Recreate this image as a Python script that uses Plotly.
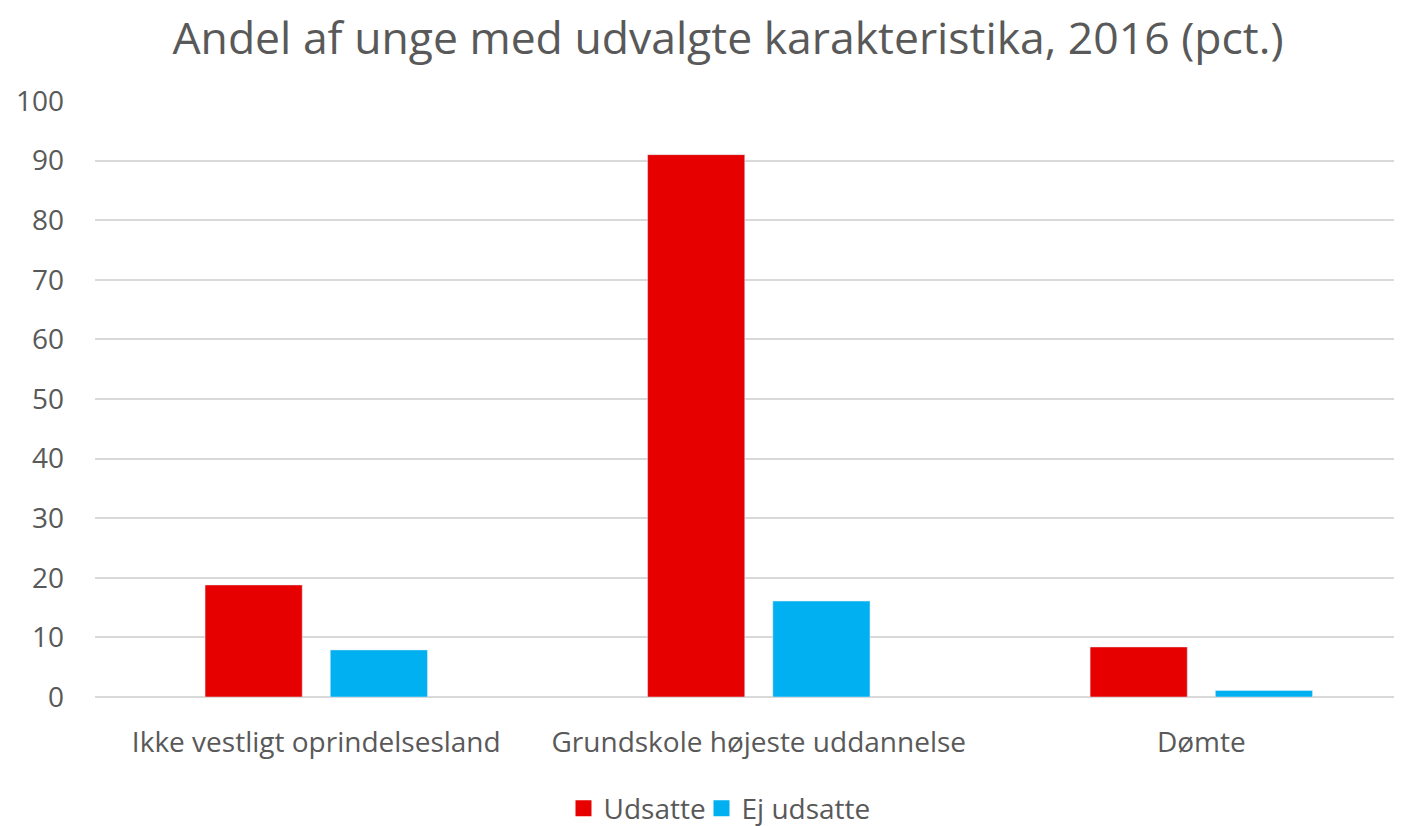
import plotly.graph_objects as go

categories = ["Ikke vestligt oprindelsesland", "Grundskole højeste uddannelse", "Dømte"]
series_names = ["Udsatte", "Ej udsatte"]
udsatte = [18.8, 91.0, 8.4]
ej_udsatte = [7.9, 16.1, 1.1]
colors = ["#E60000", "#00B0F0"]

FONT = "Open Sans, Liberation Sans, sans-serif"
GREY = "#595959"

fig = go.Figure()
for name, vals, col in zip(series_names, [udsatte, ej_udsatte], colors):
    fig.add_bar(x=categories, y=vals, name=name, marker_color=col, showlegend=False)
    # legend-only entry so the key gets a proper square swatch
    fig.add_scatter(
        x=[None], y=[None], mode="markers", name=name,
        marker=dict(symbol="square", size=20, color=col),
    )
# blank trailing entry: widens the legend box so the last label is not clipped
fig.add_scatter(
    x=[None], y=[None], mode="markers", name=" ",
    marker=dict(symbol="square", size=20, color="rgba(0,0,0,0)"),
)

# page body has an 8px margin, so the figure is sized to fit inside the window
fig.update_layout(
    width=1394,
    height=818,
    paper_bgcolor="white",
    plot_bgcolor="white",
    margin=dict(l=87, r=2, t=93, b=129, autoexpand=False),
    barmode="group",
    bargap=0.434,
    bargroupgap=0.224,
    font=dict(family=FONT, color=GREY, size=28),
    title=dict(
        text="Andel af unge med udvalgte karakteristika, 2016 (pct.)",
        x=0.5165, xanchor="center", y=0.963, yanchor="middle",
        font=dict(family=FONT, size=44.5, color=GREY),
    ),
    legend=dict(
        orientation="h", x=0.359, xanchor="left", y=-0.187, yanchor="middle",
        entrywidth=93, entrywidthmode="pixels",
        font=dict(size=28, color=GREY),
    ),
    showlegend=True,
)
fig.update_yaxes(
    range=[0, 100], dtick=10, gridcolor="#D9D9D9", gridwidth=2,
    zeroline=True, zerolinecolor="#D9D9D9", zerolinewidth=2,
    ticklabelstandoff=30, tickfont=dict(size=28, color=GREY),
)
# the original chart's plot area runs past the right edge of the picture
fig.update_xaxes(
    range=[-0.5, 2.449],
    showline=False, ticks="", ticklabelstandoff=26,
    tickfont=dict(size=28, color=GREY),
)

fig.write_html("out.html")
